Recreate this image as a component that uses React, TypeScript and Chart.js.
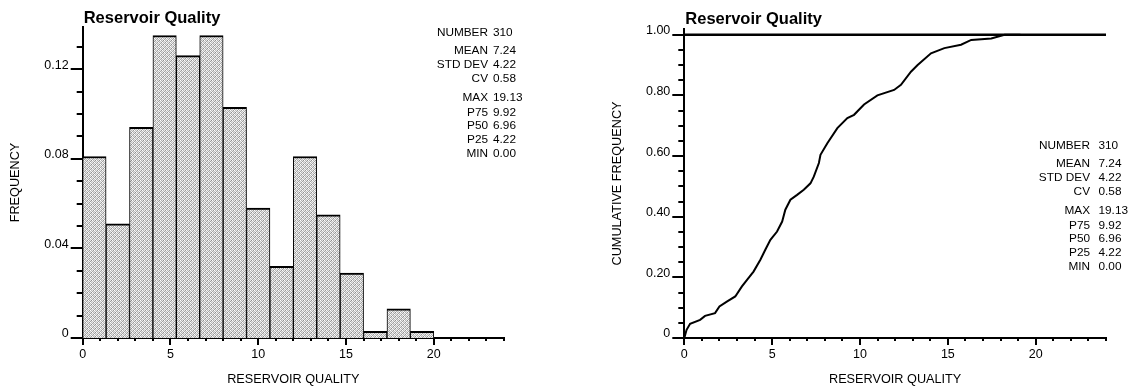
import React, { useEffect, useRef } from "react";
import { Chart, registerables } from "chart.js";

Chart.register(...registerables);

// ---------------- data ----------------
const BIN_EDGES = [0, 1.333, 2.667, 4, 5.333, 6.667, 8, 9.333, 10.667, 12, 13.333, 14.667, 16, 17.333, 18.667, 20];
const FREQUENCIES = [0.081, 0.051, 0.094, 0.135, 0.126, 0.135, 0.103, 0.058, 0.032, 0.081, 0.055, 0.029, 0.003, 0.013, 0.003];

const CDF_X = [0, 0.13, 0.33, 0.9, 1.18, 1.75, 2.0, 2.42, 2.9, 3.28, 3.57, 3.94, 4.33, 4.61, 4.9, 5.28, 5.57, 5.75, 6.04, 6.42, 6.8, 7.18, 7.37, 7.66, 7.75, 8.14, 8.71, 9.28, 9.66, 10.23, 10.99, 11.94, 12.33, 12.9, 13.28, 14.04, 14.8, 15.75, 16.33, 17.47, 18.23, 19.13];
const CDF_Y = [0, 0.027, 0.047, 0.06, 0.073, 0.082, 0.104, 0.12, 0.137, 0.17, 0.192, 0.219, 0.258, 0.291, 0.324, 0.351, 0.384, 0.423, 0.456, 0.472, 0.489, 0.51, 0.532, 0.577, 0.604, 0.642, 0.692, 0.725, 0.736, 0.77, 0.8, 0.818, 0.835, 0.878, 0.9, 0.939, 0.956, 0.967, 0.983, 0.988, 1.0, 1.0];

const REF_LINE_X = [0, 24];
const REF_LINE_Y = 1.0;

const X_MAJOR = [0, 5, 10, 15, 20];
const X_LABELS = ["0", "5", "10", "15", "20"];
const HIST_Y_MAJOR = [0, 0.04, 0.08, 0.12];
const HIST_Y_LABELS = ["0", "0.04", "0.08", "0.12"];
const CDF_Y_MAJOR = [0, 0.2, 0.4, 0.6, 0.8, 1.0];
const CDF_Y_LABELS = ["0", "0.20", "0.40", "0.60", "0.80", "1.00"];

const STAT_LABELS = ["NUMBER", "MEAN", "STD DEV", "CV", "MAX", "P75", "P50", "P25", "MIN"];
const STAT_VALUES = ["310", "7.24", "4.22", "0.58", "19.13", "9.92", "6.96", "4.22", "0.00"];

const TITLE = "Reservoir Quality";
const X_TITLE = "RESERVOIR QUALITY";
const HIST_Y_TITLE = "FREQUENCY";
const CDF_Y_TITLE = "CUMULATIVE FREQUENCY";

// ---------------- styling / layout ----------------
const FONT = "'Liberation Sans', Arial, Helvetica, sans-serif";
const STAT_ROW_OFFSETS = [0, 18.5, 32.5, 46.5, 65.5, 80, 93.5, 107, 121];
const STIPPLE = [
  ["#ffffff", "#b0b0b0", "#e8e8e8", "#909090"],
  ["#c8c8c8", "#f0f0f0", "#a0a0a0", "#e0e0e0"],
  ["#e8e8e8", "#9a9a9a", "#ffffff", "#b8b8b8"],
  ["#a8a8a8", "#e0e0e0", "#c0c0c0", "#f4f4f4"],
];

Chart.defaults.font.family = FONT;
Chart.defaults.color = "#000";

function makeStipple(): any {
  const c = document.createElement("canvas");
  c.width = 4;
  c.height = 4;
  const g = c.getContext("2d");
  if (!g) return "#cdcdcd";
  STIPPLE.forEach((row, r) =>
    row.forEach((col, k) => {
      g.fillStyle = col;
      g.fillRect(k, r, 1, 1);
    })
  );
  return g.createPattern(c, "repeat") || "#cdcdcd";
}

const isMajor = (majors: number[], v: number) => majors.some((m) => Math.abs(m - v) < 1e-6);
const labeler = (majors: number[], labels: string[]) => (v: any) => {
  const n = Number(v);
  const i = majors.findIndex((m) => Math.abs(m - n) < 1e-6);
  return i >= 0 ? labels[i] : "";
};

function decorPlugin(o: {
  yMajor: number[];
  titleBaseline: number;
  statTop: number;
  statLabelRight: number;
  statValueLeft: number;
}) {
  return {
    id: "decor",
    afterDraw(chart: any) {
      const { ctx, chartArea, scales } = chart;
      ctx.save();
      ctx.strokeStyle = "#000";
      ctx.lineWidth = 2;
      const ys = scales.y;
      ys.ticks.forEach((t: any) => {
        const len = isMajor(o.yMajor, t.value) ? 12 : 6;
        const py = Math.round(ys.getPixelForValue(t.value));
        ctx.beginPath();
        ctx.moveTo(chartArea.left - len, py);
        ctx.lineTo(chartArea.left, py);
        ctx.stroke();
      });
      const xs = scales.x;
      xs.ticks.forEach((t: any) => {
        const len = isMajor(X_MAJOR, t.value) ? 7 : 3;
        const px = Math.round(xs.getPixelForValue(t.value));
        ctx.beginPath();
        ctx.moveTo(px, chartArea.bottom);
        ctx.lineTo(px, chartArea.bottom + len);
        ctx.stroke();
      });
      ctx.fillStyle = "#000";
      ctx.font = `bold 16.5px ${FONT}`;
      ctx.textAlign = "left";
      ctx.textBaseline = "alphabetic";
      ctx.fillText(TITLE, chartArea.left + 1, o.titleBaseline);
      ctx.font = `11.8px ${FONT}`;
      ctx.textBaseline = "middle";
      STAT_LABELS.forEach((lab, i) => {
        const y = o.statTop + STAT_ROW_OFFSETS[i];
        ctx.textAlign = "right";
        ctx.fillText(lab, o.statLabelRight, y);
        ctx.textAlign = "left";
        ctx.fillText(STAT_VALUES[i], o.statValueLeft, y);
      });
      ctx.restore();
    },
  };
}

const xScale = (axisWidth?: number) => ({
  type: "linear",
  min: 0,
  max: 24,
  offset: false,
  grid: { display: false, drawTicks: false, offset: false },
  border: { display: true, color: "#000", width: 2 },
  ticks: {
    stepSize: 1,
    autoSkip: false,
    maxRotation: 0,
    includeBounds: false,
    padding: 9.5,
    font: { size: 12.5 },
    callback: labeler(X_MAJOR, X_LABELS),
  },
  title: { display: true, text: X_TITLE, font: { size: 12.7 }, padding: { top: 0, bottom: 2.4 } },
  afterFit: (s: any) => {
    s.height = 52;
  },
});

const yScale = (max: number, step: number, majors: number[], labels: string[], title: string, width: number) => ({
  type: "linear",
  min: 0,
  max,
  grid: { display: false, drawTicks: false },
  border: { display: true, color: "#000", width: 2 },
  ticks: {
    stepSize: step,
    autoSkip: false,
    includeBounds: false,
    padding: 14,
    labelOffset: -4,
    font: { size: 12.5 },
    callback: labeler(majors, labels),
  },
  title: { display: true, text: title, font: { size: 12.7 }, padding: { top: 7.4, bottom: 0 } },
  afterFit: (s: any) => {
    s.width = width;
  },
});

function buildHistogram(): any {
  const points = FREQUENCIES.map((f, i) => ({ x: (BIN_EDGES[i] + BIN_EDGES[i + 1]) / 2, y: f }));
  return {
    type: "bar",
    data: {
      datasets: [
        {
          data: points,
          backgroundColor: makeStipple(),
          borderColor: "#000",
          borderWidth: { top: 2, left: 1, right: 1, bottom: 0 },
          barThickness: "flex",
          barPercentage: 1,
          categoryPercentage: 1,
        },
      ],
    },
    options: {
      responsive: false,
      animation: false,
      devicePixelRatio: 1,
      layout: { padding: { left: 0, right: 62, top: 27, bottom: 0 } },
      plugins: { legend: { display: false }, title: { display: false }, tooltip: { enabled: false } },
      scales: {
        x: xScale(),
        y: yScale(0.1388, 0.01, HIST_Y_MAJOR, HIST_Y_LABELS, HIST_Y_TITLE, 82.7),
      },
    },
    plugins: [decorPlugin({ yMajor: HIST_Y_MAJOR, titleBaseline: 23, statTop: 32.3, statLabelRight: 488, statValueLeft: 493 })],
  };
}

function buildCdf(): any {
  const curve = CDF_X.map((x, i) => ({ x, y: CDF_Y[i] }));
  const ref = REF_LINE_X.map((x) => ({ x, y: REF_LINE_Y }));
  return {
    type: "line",
    data: {
      datasets: [
        { data: ref, borderColor: "#000", borderWidth: 2.5, pointRadius: 0, tension: 0, fill: false },
        { data: curve, borderColor: "#000", borderWidth: 2, pointRadius: 0, tension: 0, fill: false },
      ],
    },
    options: {
      responsive: false,
      animation: false,
      devicePixelRatio: 1,
      layout: { padding: { left: 36, right: 27, top: 29, bottom: 0 } },
      plugins: { legend: { display: false }, title: { display: false }, tooltip: { enabled: false } },
      scales: {
        x: xScale(),
        y: yScale(1.019, 0.05, CDF_Y_MAJOR, CDF_Y_LABELS, CDF_Y_TITLE, 82.3),
      },
    },
    plugins: [decorPlugin({ yMajor: CDF_Y_MAJOR, titleBaseline: 24, statTop: 145.7, statLabelRight: 524, statValueLeft: 532.5 })],
  };
}

function ChartCanvas({ left, width, build }: { left: number; width: number; build: () => any }) {
  const ref = useRef<HTMLCanvasElement>(null);
  useEffect(() => {
    if (!ref.current) return;
    const chart = new Chart(ref.current, build());
    return () => chart.destroy();
  }, []);
  return (
    <canvas
      ref={ref}
      width={width}
      height={390}
      style={{ position: "absolute", left, top: 0, width, height: 390, display: "block" }}
    />
  );
}

export default function App() {
  return (
    <div style={{ position: "absolute", left: 0, top: 0, width: 1133, height: 390, background: "#fff", overflow: "hidden" }}>
      <ChartCanvas left={0} width={566} build={buildHistogram} />
      <ChartCanvas left={566} width={567} build={buildCdf} />
    </div>
  );
}
